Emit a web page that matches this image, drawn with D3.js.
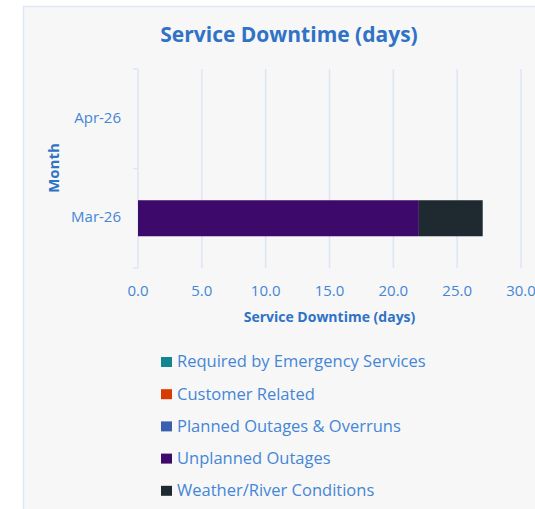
<!DOCTYPE html>
<html>
<head>
<meta charset="utf-8">
<script src="https://cdn.jsdelivr.net/npm/d3@7"></script>
<style>
  body { margin: 0; background: #ffffff; }
  svg { display: block; font-family: "Open Sans", sans-serif; }
</style>
</head>
<body>
<div id="chart"></div>
<script>
// data
const months = ["Apr-26", "Mar-26"];
const seriesNames = [
  "Required by Emergency Services",
  "Customer Related",
  "Planned Outages & Overruns",
  "Unplanned Outages",
  "Weather/River Conditions",
];
const seriesColors = ["#13858f", "#d83b01", "#3a5fb0", "#3d0a6b", "#1e2930"];
const emergency = [0, 0];
const customer = [0, 0];
const planned = [0, 0];
const unplanned = [0, 22];
const weather = [0, 5];
const xTicks = [0, 5, 10, 15, 20, 25, 30];

const width = 535;
const height = 509;
const titleColor = "#2f72c6";
const labelColor = "#4486d6";
const gridColor = "#dce6f3";

const rows = months.map((m, i) => ({
  month: m,
  [seriesNames[0]]: emergency[i],
  [seriesNames[1]]: customer[i],
  [seriesNames[2]]: planned[i],
  [seriesNames[3]]: unplanned[i],
  [seriesNames[4]]: weather[i],
}));

const svg = d3
  .select("#chart")
  .append("svg")
  .attr("width", width)
  .attr("height", height);

// panel
svg
  .append("rect")
  .attr("x", 23.5)
  .attr("y", 6.5)
  .attr("width", 540)
  .attr("height", 540)
  .attr("fill", "#f7f7f7")
  .attr("stroke", "#dde7f5")
  .attr("stroke-width", 1.5);

svg
  .append("text")
  .attr("x", 289)
  .attr("y", 36)
  .attr("text-anchor", "middle")
  .attr("dominant-baseline", "middle")
  .attr("font-size", 21)
  .attr("font-weight", "bold")
  .attr("fill", titleColor)
  .text("Service Downtime (days)");

const xScale = d3.scaleLinear().domain([0, 30]).range([138, 521]);
const yScale = d3
  .scaleBand()
  .domain(months)
  .range([69, 268])
  .paddingInner(0.638)
  .paddingOuter(0.319);

// grid
svg
  .append("g")
  .selectAll("line")
  .data(xTicks.slice(1))
  .enter()
  .append("line")
  .attr("x1", (d) => xScale(d))
  .attr("x2", (d) => xScale(d))
  .attr("y1", 69)
  .attr("y2", 268)
  .attr("stroke", gridColor)
  .attr("stroke-width", 1.5);

// y axis line + small ticks at band edges
const yAxis = svg.append("g");
yAxis
  .append("line")
  .attr("x1", xScale(0))
  .attr("x2", xScale(0))
  .attr("y1", 69)
  .attr("y2", 268)
  .attr("stroke", gridColor)
  .attr("stroke-width", 1.5);
const edges = [69, 268].concat(months.slice(1).map((m) => yScale(m) - (yScale.step() - yScale.bandwidth()) / 2));
yAxis
  .selectAll(".edge")
  .data(edges)
  .enter()
  .append("line")
  .attr("x1", xScale(0) - 5)
  .attr("x2", xScale(0))
  .attr("y1", (d) => d)
  .attr("y2", (d) => d)
  .attr("stroke", gridColor)
  .attr("stroke-width", 1.5);

yAxis
  .selectAll(".lbl")
  .data(months)
  .enter()
  .append("text")
  .attr("x", 121)
  .attr("y", (d) => yScale(d) + yScale.bandwidth() / 2)
  .attr("text-anchor", "end")
  .attr("dominant-baseline", "middle")
  .attr("font-size", 15)
  .attr("fill", labelColor)
  .text((d) => d);

svg
  .append("text")
  .attr("transform", "translate(55,168) rotate(-90)")
  .attr("text-anchor", "middle")
  .attr("dominant-baseline", "middle")
  .attr("font-size", 15)
  .attr("font-weight", "bold")
  .attr("fill", titleColor)
  .text("Month");

// x tick labels
svg
  .append("g")
  .selectAll("text")
  .data(xTicks)
  .enter()
  .append("text")
  .attr("x", (d) => xScale(d))
  .attr("y", 292)
  .attr("text-anchor", "middle")
  .attr("dominant-baseline", "middle")
  .attr("font-size", 15)
  .attr("fill", labelColor)
  .text((d) => d3.format(".1f")(d));

svg
  .append("text")
  .attr("x", (xScale(0) + xScale(30)) / 2)
  .attr("y", 318)
  .attr("text-anchor", "middle")
  .attr("dominant-baseline", "middle")
  .attr("font-size", 14)
  .attr("font-weight", "bold")
  .attr("fill", titleColor)
  .text("Service Downtime (days)");

// stacked bars
const stacked = d3.stack().keys(seriesNames)(rows);
svg
  .append("g")
  .selectAll("g")
  .data(stacked)
  .enter()
  .append("g")
  .attr("fill", (d, i) => seriesColors[i])
  .selectAll("rect")
  .data((d) => d)
  .enter()
  .append("rect")
  .attr("x", (d) => xScale(d[0]))
  .attr("y", (d) => yScale(d.data.month))
  .attr("width", (d) => xScale(d[1]) - xScale(d[0]))
  .attr("height", yScale.bandwidth());

// legend
const legend = svg
  .append("g")
  .selectAll("g")
  .data(seriesNames)
  .enter()
  .append("g")
  .attr("transform", (d, i) => `translate(161, ${362 + i * 32.2})`);
legend
  .append("rect")
  .attr("x", 0)
  .attr("y", -5)
  .attr("width", 11)
  .attr("height", 10)
  .attr("fill", (d, i) => seriesColors[i]);
legend
  .append("text")
  .attr("x", 16)
  .attr("y", 1)
  .attr("dominant-baseline", "middle")
  .attr("font-size", 16.5)
  .attr("fill", labelColor)
  .text((d) => d);
</script>
</body>
</html>
